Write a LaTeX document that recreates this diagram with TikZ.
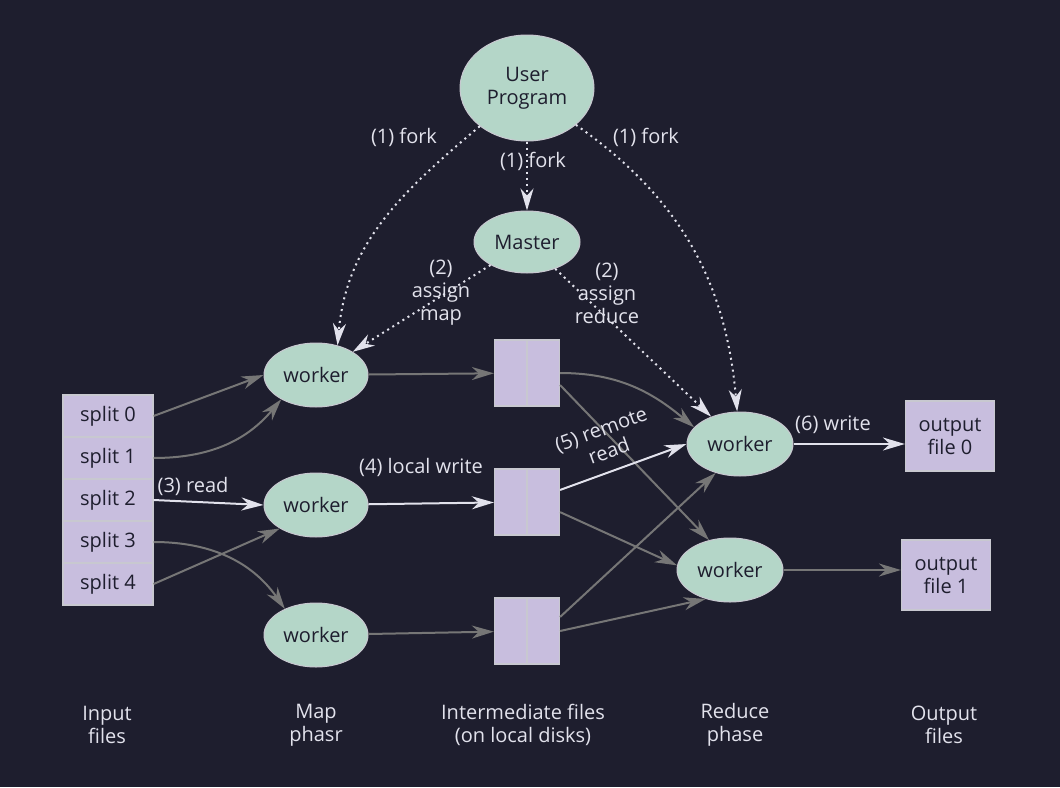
\documentclass[tikz,border=0pt]{standalone}
\usepackage{fontspec}
\setmainfont{Open Sans}
\usetikzlibrary{arrows.meta,shapes.geometric}
\definecolor{bgdark}{RGB}{30,30,46}
\definecolor{mint}{RGB}{180,214,200}
\definecolor{lilac}{RGB}{200,190,222}
\definecolor{rimgray}{RGB}{200,200,208}
\definecolor{flowgray}{RGB}{118,118,118}
\definecolor{hotwhite}{RGB}{226,226,236}
\tikzset{
  txt/.style={font=\fontsize{20}{23}\selectfont},
  job/.style={ellipse, draw=rimgray, line width=1pt, fill=mint, inner sep=0pt, text=bgdark, align=center, txt},
  splitbox/.style={rectangle, draw=rimgray, line width=1.2pt, fill=lilac, minimum width=90pt, minimum height=42pt, inner sep=0pt, text=bgdark, txt},
  interbox/.style={rectangle, draw=rimgray, line width=1.2pt, fill=lilac, minimum width=65pt, minimum height=66pt, inner sep=0pt},
  outbox/.style={splitbox, minimum width=89pt, minimum height=70pt, align=center},
  flow/.style={draw=flowgray, line width=2pt, -{Stealth[length=22pt,width=13pt,inset=7pt]}},
  hot/.style={flow, draw=hotwhite},
  ctrl/.style={draw=hotwhite, line width=2pt, dash pattern=on 2pt off 4pt, -{Stealth[length=22pt,width=13pt,inset=7pt]}},
  lbl/.style={text=hotwhite, align=center, inner sep=0pt, txt}
}

\begin{document}
\begin{tikzpicture}[x=1pt,y=1pt]
			%%%%% START %%%%%
			\fill[bgdark] (0,0) rectangle (1060,-787);
			\useasboundingbox (0,0) rectangle (1060,-787);
			
			\node[job, minimum width=134pt, minimum height=106pt] (up) at (527,-88) {User\\Program};
			\node[job, minimum width=106pt, minimum height=62pt] (master) at (527,-242) {Master};
			
			\node[job, minimum width=104pt, minimum height=64pt] (mw1) at (316,-375) {worker};
			\node[job, minimum width=104pt, minimum height=64pt] (mw2) at (316,-505) {worker};
			\node[job, minimum width=104pt, minimum height=64pt] (mw3) at (316,-635) {worker};
			
			\node[job, minimum width=106pt, minimum height=64pt] (rw1) at (740,-444) {worker};
			\node[job, minimum width=106pt, minimum height=64pt] (rw2) at (730,-570) {worker};
			
			\foreach \i in {0,...,4}
				\node[splitbox] (split\i) at (108,-416-42*\i) {split \i};
			
			\foreach \i/\y in {1/373,2/502,3/631}{
				\node[interbox] (inter\i) at (527,-\y) {};
				\draw[rimgray, line width=1.2pt] (inter\i.north) -- (inter\i.south);
			}
			
			\node[outbox] (out0) at (950,-436) {output\\file 0};
			\node[outbox] (out1) at (946,-575) {output\\file 1};
			
			% fork and assign
			\draw[ctrl] (up) -- (master);
			\draw[ctrl] (up.219) to[out=220, in=85] (mw1.54);
			\draw[ctrl] (up.-37) to[out=-35, in=95] (rw1.95);
			\draw[ctrl] (master) -- (mw1);
			\draw[ctrl] (master) -- (rw1);
			
			\node[lbl] (forkl) at (404,-137) {(1) fork};
			\node[lbl] (forkm) at (533,-161) {(1) fork};
			\node[lbl] (forkr) at (646,-137) {(1) fork};
			\node[lbl] (amap) at (441,-293) {(2)\\assign\\map};
			\node[lbl] (ared) at (607,-293) {(2)\\assign\\reduce};
			
			% map phase
			\draw[flow] (split0.east) -- (mw1.west);
			\draw[flow] (split1.east) to[out=0, in=230] (mw1.215);
			\draw[hot] (split2.east) -- (mw2.west);
			\draw[flow] (split3.east) to[out=0, in=125] (mw3.140);
			\draw[flow] (split4.east) -- (mw2.213);
			\node[lbl] (read) at (193,-486) {(3) read};
			
			\draw[flow] (mw1) -- (inter1);
			\draw[hot] (mw2) -- (inter2);
			\draw[flow] (mw3) -- (inter3);
			\node[lbl] (lwrite) at (421,-467) {(4) local write};
			
			% reduce phase
			\draw[flow] (inter1.east) to[out=0, in=140] (rw1.160);
			\draw[flow] (inter1.-20) -- (rw2.125);
			\draw[hot] (inter2.20) -- (rw1.180);
			\draw[flow] (inter2.-17) -- (rw2.175);
			\draw[flow] (inter3.23) -- (rw1.230);
			\draw[flow] (inter3.east) -- (rw2.230);
			\node[lbl, rotate=20] (rread) at (605,-440) {(5) remote\\read};
			
			\draw[hot] (rw1.east) -- (rw1.east -| out0.west);
			\draw[flow] (rw2.east) -- (rw2.east -| out1.west);
			\node[lbl] (write) at (833,-425) {(6) write};
			
			% phases
			\node[lbl] (ph1) at (107,-725) {Input\\files};
			\node[lbl] (ph2) at (316,-725) {Map\\phasr};
			\node[lbl] (ph3) at (523,-725) {Intermediate files\\(on local disks)};
			\node[lbl] (ph4) at (735,-725) {Reduce\\phase};
			\node[lbl] (ph5) at (944,-725) {Output\\files};
			
			%%%%% END %%%%%
\end{tikzpicture}
\end{document}
